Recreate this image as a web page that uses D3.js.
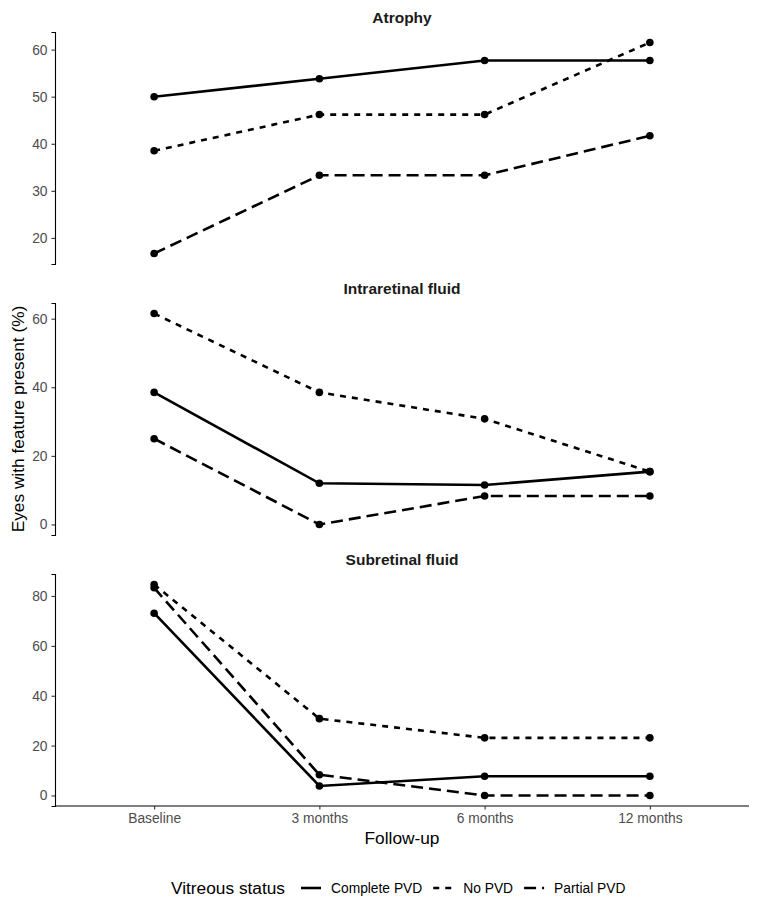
<!DOCTYPE html>
<html>
<head>
<meta charset="utf-8">
<script src="https://cdn.jsdelivr.net/npm/d3@7"></script>
<style>
  body { margin: 0; background: #fff; }
  text { font-family: "Liberation Sans", Arial, sans-serif; }
</style>
</head>
<body>
<svg id="chart" width="763" height="903"></svg>
<script>
// data (percent of eyes with the feature)
const months = ["Baseline", "3 months", "6 months", "12 months"];
const statuses = ["Complete PVD", "No PVD", "Partial PVD"];
const panelTitles = ["Atrophy", "Intraretinal fluid", "Subretinal fluid"];

const atrophyComplete = [50.0, 53.8, 57.7, 57.7];
const atrophyNoPvd = [38.5, 46.2, 46.2, 61.5];
const atrophyPartial = [16.7, 33.3, 33.3, 41.7];

const intraComplete = [38.5, 12.0, 11.5, 15.4];
const intraNoPvd = [61.5, 38.5, 30.8, 15.4];
const intraPartial = [25.0, 0.0, 8.3, 8.3];

const subComplete = [73.1, 3.8, 7.7, 7.7];
const subNoPvd = [84.6, 30.8, 23.1, 23.1];
const subPartial = [83.3, 8.3, 0.0, 0.0];

const atrophyTicks = [20, 30, 40, 50, 60];
const intraTicks = [0, 20, 40, 60];
const subTicks = [0, 20, 40, 60, 80];

const panels = [
    { title: panelTitles[0], series: [atrophyComplete, atrophyNoPvd, atrophyPartial], ticks: atrophyTicks },
    { title: panelTitles[1], series: [intraComplete, intraNoPvd, intraPartial], ticks: intraTicks },
    { title: panelTitles[2], series: [subComplete, subNoPvd, subPartial], ticks: subTicks }
];

const left = 55, right = 749;
const panelTop = [32, 303, 574];
const panelH = 232;
const dashes = { "Complete PVD": null, "No PVD": "6,6", "Partial PVD": "12,6" };
const lineW = 2.6;

const svg = d3.select("#chart");

const x = d3.scalePoint().domain(months).range([left, right]).padding(0.6);

panels.forEach((p, i) => {
    const g = svg.append("g");
    const all = p.series.flat();
    const lo = d3.min(all), hi = d3.max(all);
    const pad = (hi - lo) * 0.05;
    const y = d3.scaleLinear()
        .domain([lo - pad, hi + pad])
        .range([panelTop[i] + panelH, panelTop[i]]);

    // strip title
    g.append("text")
        .attr("x", (left + right) / 2)
        .attr("y", panelTop[i] - 15)
        .attr("text-anchor", "middle")
        .attr("dominant-baseline", "central")
        .style("font-size", "15.5px")
        .style("font-weight", "bold")
        .attr("fill", "#1a1a1a")
        .text(p.title);

    const yAxis = g.append("g")
        .attr("transform", `translate(${left},0)`)
        .call(d3.axisLeft(y).tickValues(p.ticks).tickSize(3.5).tickPadding(4));
    yAxis.select(".domain").attr("stroke", "#000").attr("stroke-width", 1.1);
    yAxis.selectAll(".tick line").attr("stroke", "#333").attr("stroke-width", 1.1);
    yAxis.selectAll(".tick text")
        .attr("fill", "#4d4d4d")
        .style("font-size", "13.8px")
        .style("font-family", "'Liberation Sans', Arial, sans-serif");

    if (i === panels.length - 1) {
        const xAxis = g.append("g")
            .attr("transform", `translate(0,${panelTop[i] + panelH})`)
            .call(d3.axisBottom(x).tickSize(3.5).tickPadding(4).tickSizeOuter(0));
        xAxis.select(".domain").attr("stroke", "#000").attr("stroke-width", 1.1)
            .attr("d", `M${left},0H${right}`);
        xAxis.selectAll(".tick line").attr("stroke", "#333").attr("stroke-width", 1.1);
        xAxis.selectAll(".tick text")
            .attr("fill", "#4d4d4d")
            .style("font-size", "13.8px")
            .style("font-family", "'Liberation Sans', Arial, sans-serif");
    }

    const line = d3.line()
        .x((d, j) => x(months[j]))
        .y(d => y(d));

    p.series.forEach((vals, k) => {
        g.append("path")
            .datum(vals)
            .attr("d", line)
            .attr("fill", "none")
            .attr("stroke", "#000")
            .attr("stroke-width", lineW)
            .attr("stroke-dasharray", dashes[statuses[k]]);
    });
    p.series.forEach(vals => {
        g.selectAll(null)
            .data(vals)
            .join("circle")
            .attr("cx", (d, j) => x(months[j]))
            .attr("cy", d => y(d))
            .attr("r", 3.8)
            .attr("fill", "#000");
    });
});

// axis titles
svg.append("text")
    .attr("x", (left + right) / 2)
    .attr("y", 838)
    .attr("text-anchor", "middle")
    .attr("dominant-baseline", "central")
    .style("font-size", "17.3px")
    .text("Follow-up");

svg.append("text")
    .attr("transform", `translate(18,${(panelTop[0] + panelTop[2] + panelH) / 2}) rotate(-90)`)
    .attr("text-anchor", "middle")
    .attr("dominant-baseline", "central")
    .style("font-size", "17.3px")
    .text("Eyes with feature present (%)");

// legend
const legY = 888;
const leg = svg.append("g");
const legTitle = leg.append("text")
    .attr("x", 171).attr("y", legY)
    .attr("dominant-baseline", "central")
    .style("font-size", "17.3px")
    .text("Vitreous status");
let cx = 171 + legTitle.node().getComputedTextLength() + 16;
statuses.forEach(s => {
    leg.append("line")
        .attr("x1", cx).attr("x2", cx + 20)
        .attr("y1", legY).attr("y2", legY)
        .attr("stroke", "#000")
        .attr("stroke-width", lineW)
        .attr("stroke-dasharray", dashes[s]);
    const t = leg.append("text")
        .attr("x", cx + 30).attr("y", legY)
        .attr("dominant-baseline", "central")
        .style("font-size", "13.8px")
        .text(s);
    cx += 30 + t.node().getComputedTextLength() + 11;
});
</script>
</body>
</html>
